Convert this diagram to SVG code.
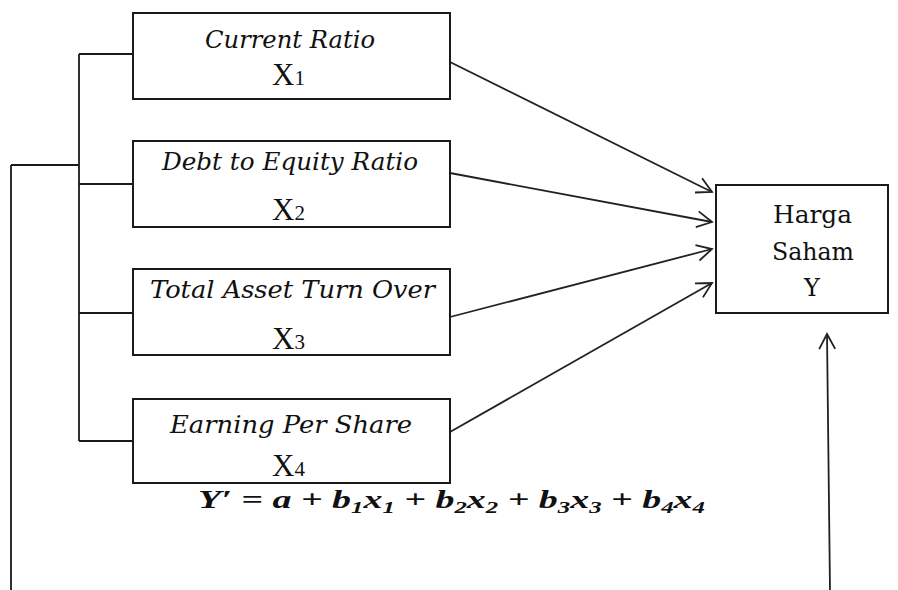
<svg xmlns="http://www.w3.org/2000/svg" width="898" height="590" viewBox="0 0 898 590">
<style>
.box{fill:#fff;stroke:#1a1a1a;stroke-width:2}
.lbl{font-family:"DejaVu Serif","Liberation Serif",serif;font-style:italic;font-size:24px;fill:#111}
.var{font-family:"Liberation Serif","Times New Roman",serif;font-size:31px;fill:#111}
.ys{font-family:"DejaVu Serif","Liberation Serif",serif;font-size:24px;fill:#111}
.sub{font-size:21px}
.ln{fill:none;stroke:#1a1a1a;stroke-width:1.8}
.arr{fill:none;stroke:#222;stroke-width:1.8;marker-end:url(#ah)}
.eq{font-family:"Liberation Serif","Times New Roman",serif;font-style:italic;font-weight:bold;font-size:26px;fill:#111}
.es{font-size:17px}
</style>
<defs>
<marker id="ah" markerUnits="userSpaceOnUse" markerWidth="20" markerHeight="20" viewBox="0 0 20 20" refX="17" refY="10" orient="auto">
<path d="M2,2 L17,10 L2,18" fill="none" stroke="#222" stroke-width="1.8"/>
</marker>
</defs>
<rect width="898" height="590" fill="#fff"/>
<g id="connectors">
<path class="ln" d="M79,54 L79,441 M79,54 L133,54 M79,184 L133,184 M79,313 L133,313 M79,441 L133,441 M11,165 L79,165 M11,165 L11,590"/>
<line class="arr" x1="450" y1="62" x2="712" y2="192"/>
<line class="arr" x1="450" y1="173" x2="712" y2="222"/>
<line class="arr" x1="450" y1="317" x2="712" y2="249"/>
<line class="arr" x1="450" y1="432" x2="712" y2="283"/>
<line class="arr" x1="830" y1="590" x2="827" y2="334"/>
</g>
<g id="x1">
<rect class="box" x="133" y="13" width="317" height="86"/>
<text class="lbl" x="205" y="48" textLength="170" lengthAdjust="spacingAndGlyphs">Current Ratio</text>
<text class="var" x="272" y="85">X<tspan class="sub">1</tspan></text>
</g>
<g id="x2">
<rect class="box" x="133" y="141" width="317" height="86"/>
<text class="lbl" x="162" y="170" textLength="256" lengthAdjust="spacingAndGlyphs">Debt to  Equity Ratio</text>
<text class="var" x="272" y="220">X<tspan class="sub">2</tspan></text>
</g>
<g id="x3">
<rect class="box" x="133" y="269" width="317" height="86"/>
<text class="lbl" x="150" y="298" textLength="285" lengthAdjust="spacingAndGlyphs">Total Asset Turn Over</text>
<text class="var" x="272" y="349">X<tspan class="sub">3</tspan></text>
</g>
<g id="x4">
<rect class="box" x="133" y="399" width="317" height="84"/>
<text class="lbl" x="170" y="433" textLength="242" lengthAdjust="spacingAndGlyphs">Earning Per Share</text>
<text class="var" x="272" y="476">X<tspan class="sub">4</tspan></text>
</g>
<g id="y">
<rect class="box" x="716" y="185" width="172" height="128"/>
<text class="ys" x="773" y="223" textLength="79" lengthAdjust="spacingAndGlyphs">Harga</text>
<text class="ys" x="772" y="260" textLength="82" lengthAdjust="spacingAndGlyphs">Saham</text>
<text class="ys" x="812" y="296" text-anchor="middle">Y</text>
</g>
<g id="equation">
<text class="eq" x="198" y="508" textLength="507" lengthAdjust="spacingAndGlyphs">Y′ = a + b<tspan class="es" dy="5">1</tspan><tspan dy="-5">x</tspan><tspan class="es" dy="5">1</tspan><tspan dy="-5"> +  b</tspan><tspan class="es" dy="5">2</tspan><tspan dy="-5">x</tspan><tspan class="es" dy="5">2</tspan><tspan dy="-5"> +  b</tspan><tspan class="es" dy="5">3</tspan><tspan dy="-5">x</tspan><tspan class="es" dy="5">3</tspan><tspan dy="-5"> + b</tspan><tspan class="es" dy="5">4</tspan><tspan dy="-5">x</tspan><tspan class="es" dy="5">4</tspan></text>
</g>
</svg>
